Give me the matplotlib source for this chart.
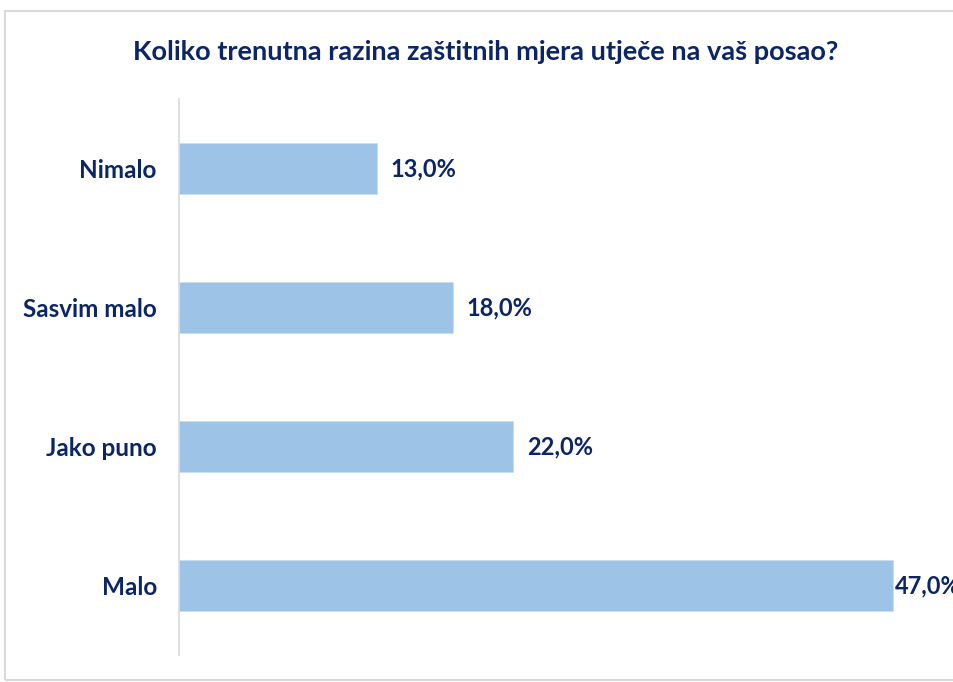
import matplotlib

matplotlib.use("Agg")
import matplotlib.pyplot as plt
from matplotlib.patches import Rectangle

# values, listed top to bottom
categories = ["Nimalo", "Sasvim malo", "Jako puno", "Malo"]
shares = [13.0, 18.0, 22.0, 47.0]
title = "Koliko trenutna razina zaštitnih mjera utječe na vaš posao?"

NAVY = "#0B2566"
BAR = "#9DC3E6"
GRID = "#D9D9D9"
XMAX = 51.0

plt.rcParams["font.family"] = ["Lato", "DejaVu Sans"]

fig = plt.figure(figsize=(9.54, 6.82), dpi=100)
W, H = 954, 682

# light grey chart frame (right edge runs off the image)
fig.patches.append(Rectangle((5 / W, 1 - 680 / H), 1.0, (680 - 11) / H,
                             transform=fig.transFigure, fill=False,
                             edgecolor=GRID, linewidth=1.5))

ax = fig.add_axes([179 / W, 1 - 655 / H, (954 - 179) / W, (655 - 99) / H])
ypos = list(range(len(categories)))
ax.barh(ypos, shares, height=0.37, color=BAR, edgecolor="#C9DEF2", linewidth=0.6)
ax.set_ylim(len(categories) - 0.5, -0.5)
ax.set_xlim(0, XMAX)

for y, v in zip(ypos, shares):
    # labels that would run off the plot get squeezed against the bar end
    off = 0.9 if v + 6 < XMAX else 0.1
    ax.text(v + off, y, f"{v:.1f}%".replace(".", ","), va="center", ha="left",
            color=NAVY, fontsize=17, fontweight="bold")

ax.set_yticks(ypos, categories)
ax.tick_params(axis="y", length=0, pad=16, labelsize=17.5, labelcolor=NAVY)
for lbl in ax.get_yticklabels():
    lbl.set_fontweight("bold")
ax.set_xticks([])
for side in ("top", "right", "bottom"):
    ax.spines[side].set_visible(False)
ax.spines["left"].set_color(GRID)
ax.spines["left"].set_linewidth(1.2)

fig.text(486 / W, 1 - 52 / H, title, ha="center", va="center",
         color=NAVY, fontsize=19.5, fontweight="bold")

fig.savefig("out.png", dpi=100)
